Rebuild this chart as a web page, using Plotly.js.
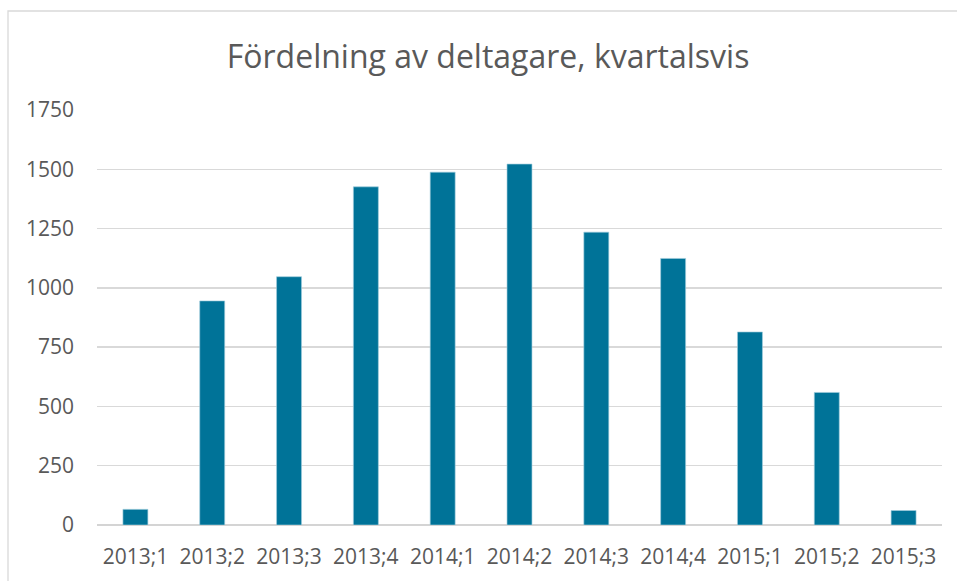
<!DOCTYPE html>
<html>
<head>
<meta charset="utf-8">
<script src="https://cdn.plot.ly/plotly-3.0.1.min.js"></script>
<style>
  html, body { margin: 0; padding: 0; background: #ffffff; }
  #chart { width: 957px; height: 581px; }
</style>
</head>
<body>
<div id="chart"></div>
<script>
const chartTitle = "Fördelning av deltagare, kvartalsvis";
const categories = ["2013;1", "2013;2", "2013;3", "2013;4", "2014;1", "2014;2", "2014;3", "2014;4", "2015;1", "2015;2", "2015;3"];
const participants = [66, 945, 1047, 1426, 1488, 1522, 1235, 1124, 814, 559, 61];
const yTickVals = [0, 250, 500, 750, 1000, 1250, 1500, 1750];

const textColor = "#595959";
const fontFamily = "'Open Sans', 'Noto Sans', sans-serif";

const trace = {
  type: "bar",
  x: categories,
  y: participants,
  marker: { color: "#007398", line: { color: "rgba(160,205,220,0.8)", width: 0.8 } },
  hoverinfo: "x+y"
};

const layout = {
  width: 957,
  height: 581,
  margin: { l: 97, r: 15, t: 110, b: 56, pad: 0 },
  paper_bgcolor: "#ffffff",
  plot_bgcolor: "#ffffff",
  showlegend: false,
  bargap: 0.675,
  font: { family: fontFamily, color: textColor, size: 21 },
  title: {
    text: chartTitle,
    font: { family: fontFamily, size: 32, color: textColor },
    x: 0.51, xref: "container", xanchor: "center",
    y: 0.902, yref: "container", yanchor: "middle"
  },
  xaxis: {
    type: "category",
    showgrid: false,
    showline: false,
    zeroline: false,
    ticks: "",
    ticklabelstandoff: 17,
    tickfont: { family: fontFamily, size: 21, color: textColor }
  },
  yaxis: {
    range: [0, 1750],
    tickvals: yTickVals,
    ticktext: yTickVals.map(String),
    showgrid: true,
    gridcolor: "#d9d9d9",
    gridwidth: 1.3,
    zeroline: true,
    zerolinecolor: "#d4d4d4",
    zerolinewidth: 1.6,
    showline: false,
    ticks: "",
    ticklabelstandoff: 22,
    tickfont: { family: fontFamily, size: 21, color: textColor }
  },
  shapes: [{
    type: "rect",
    xref: "paper", yref: "paper",
    x0: (8 - 97) / 845, x1: (962 - 97) / 845,
    y0: -(590 - 525) / 415, y1: 1 + (110 - 11) / 415,
    line: { color: "#d9d9d9", width: 1.3 },
    fillcolor: "rgba(0,0,0,0)",
    layer: "below"
  }]
};

Plotly.newPlot("chart", [trace], layout, { displayModeBar: false, staticPlot: true });
</script>
</body>
</html>
